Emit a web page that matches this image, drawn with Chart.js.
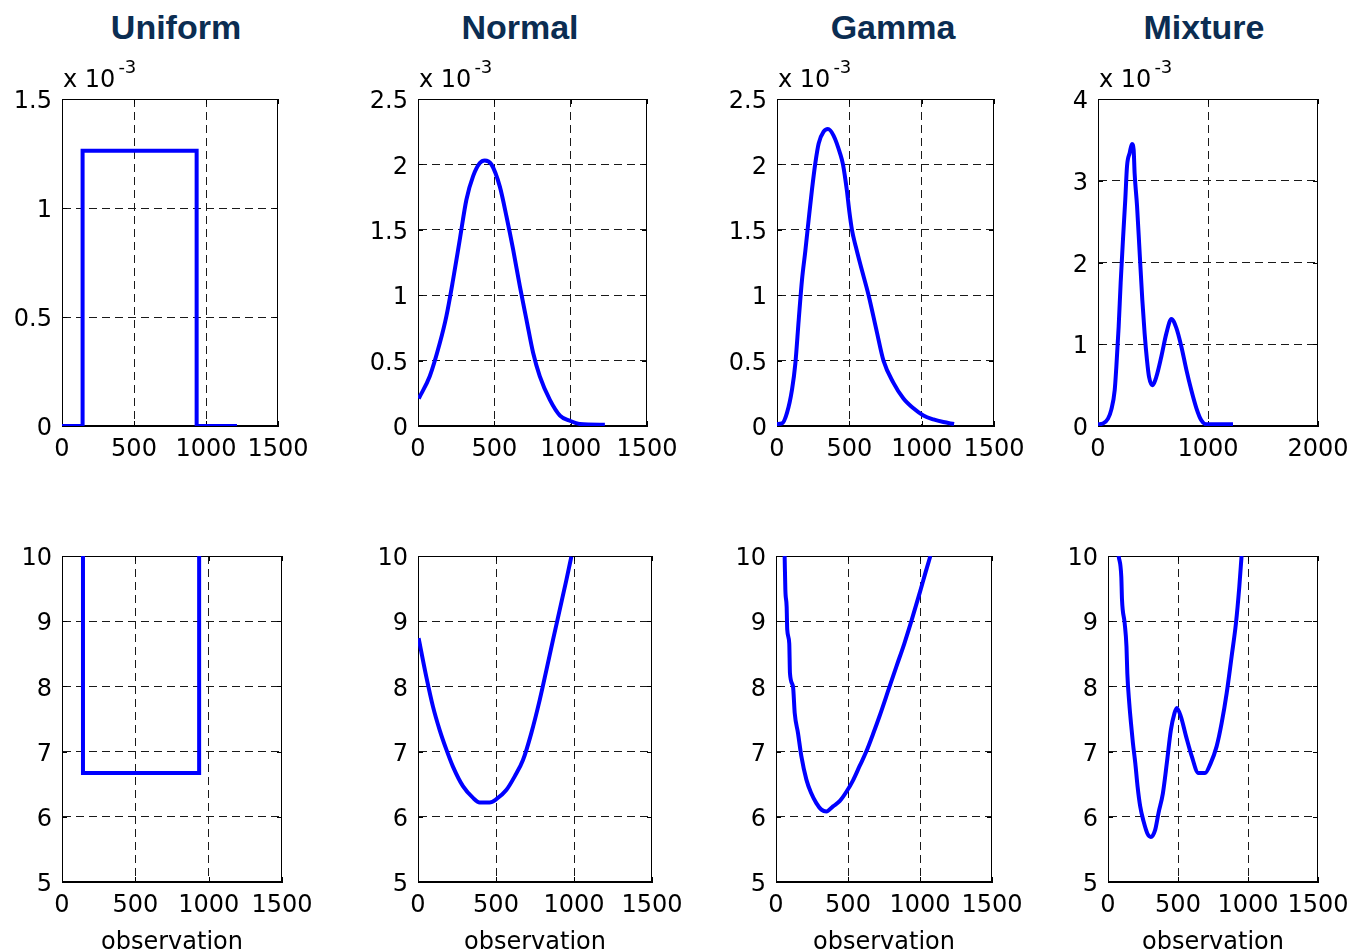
<!DOCTYPE html>
<html>
<head>
<meta charset="utf-8">
<script src="https://cdn.jsdelivr.net/npm/chart.js@4.4.0/dist/chart.umd.min.js"></script>
<style>
  html, body { margin: 0; padding: 0; background: #fff; overflow: hidden; }
  body { width: 1351px; height: 952px; position: relative; }
  canvas { position: absolute; }
  .colTitle {
    position: absolute; top: 8px; line-height: 34px;
    font: bold 34px "Liberation Sans", Arial, sans-serif; color: #0b2d52;
    transform: translateX(-50%); white-space: nowrap;
  }
  .mult {
    position: absolute; top: 65px; line-height: 24px;
    font: 24px "DejaVu Sans", sans-serif; color: #000; white-space: nowrap;
  }
  .mult span { position: relative; top: -14px; margin-left: 3px; font-size: 18px; }
</style>
</head>
<body>
<script>
// --- column titles ---
const titles = ['Uniform', 'Normal', 'Gamma', 'Mixture'];

// --- tick labels ---
const xTicks1500 = [0, 500, 1000, 1500];
const xTicks2000 = [0, 1000, 2000];
const yTicksUniform = [0, 0.5, 1, 1.5];
const yTicksNormal = [0, 0.5, 1, 1.5, 2, 2.5];
const yTicksGamma = [0, 0.5, 1, 1.5, 2, 2.5];
const yTicksMixture = [0, 1, 2, 3, 4];
const yTicksNll = [5, 6, 7, 8, 9, 10];

// --- top row: density (x 10^-3) ---
const uniformX = [0, 143, 143, 935, 935, 1215];
const uniformDensity = [0, 0, 1.263, 1.263, 0, 0];

const normalX = [5, 77, 142, 186, 230, 273, 317, 361, 405, 437, 481, 536, 580, 623, 667, 711, 754, 798, 864, 930, 995, 1060, 1224];
const normalDensity = [0.21, 0.38, 0.63, 0.84, 1.12, 1.42, 1.73, 1.91, 2.01, 2.03, 2.00, 1.83, 1.60, 1.35, 1.07, 0.81, 0.56, 0.38, 0.20, 0.08, 0.04, 0.015, 0.01];

const gammaX = [0, 35, 69, 104, 127, 150, 173, 196, 219, 242, 265, 288, 322, 352, 391, 437, 456, 483, 500, 518, 545, 575, 633, 690, 736, 805, 874, 943, 1012, 1081, 1150, 1224];
const gammaDensity = [0.015, 0.02, 0.10, 0.28, 0.48, 0.81, 1.12, 1.34, 1.58, 1.81, 2.01, 2.16, 2.25, 2.27, 2.22, 2.08, 2.0, 1.80, 1.64, 1.5, 1.37, 1.24, 1.0, 0.72, 0.5, 0.33, 0.21, 0.135, 0.08, 0.05, 0.03, 0.015];

const mixtureX = [0, 45, 91, 121, 152, 167, 188, 206, 227, 248, 264, 288, 309, 324, 333, 355, 379, 403, 424, 445, 464, 494, 530, 576, 621, 667, 712, 758, 803, 848, 894, 939, 985, 1227];
const mixtureDensity = [0.02, 0.03, 0.09, 0.20, 0.44, 0.73, 1.22, 1.75, 2.28, 2.77, 3.18, 3.34, 3.45, 3.38, 3.09, 2.69, 2.11, 1.54, 1.13, 0.81, 0.60, 0.50, 0.60, 0.85, 1.13, 1.31, 1.20, 0.97, 0.69, 0.44, 0.22, 0.07, 0.02, 0.02];

// --- bottom row: negative log density ---
const uniformNllX = [143, 143, 935, 935];
const uniformNll = [10, 6.67, 6.67, 10];

const normalNllX = [4, 53, 96, 139, 182, 224, 288, 353, 395, 459, 502, 566, 620, 673, 726, 780, 823, 865, 908, 951, 983];
const normalNll = [8.74, 8.15, 7.69, 7.33, 7.03, 6.77, 6.47, 6.29, 6.22, 6.22, 6.27, 6.41, 6.62, 6.87, 7.28, 7.79, 8.25, 8.71, 9.17, 9.63, 9.99];

const gammaNllX = [60, 65, 74, 78, 92, 97, 118, 130, 153, 176, 211, 245, 280, 315, 350, 396, 442, 488, 535, 581, 627, 674, 720, 789, 840, 890, 940, 1000, 1040, 1072];
const gammaNll = [10, 9.48, 9.22, 8.87, 8.66, 8.20, 8.0, 7.59, 7.28, 6.93, 6.57, 6.36, 6.21, 6.11, 6.08, 6.16, 6.24, 6.38, 6.56, 6.78, 7.0, 7.27, 7.55, 8.0, 8.33, 8.65, 9.0, 9.45, 9.76, 10];

const mixtureNllX = [76, 95, 100, 119, 132, 138, 152, 164, 178, 195, 211, 230, 254, 282, 306, 337, 361, 392, 420, 449, 475, 491, 520, 558, 598, 646, 693, 733, 776, 812, 848, 883, 914, 938, 954];
const mixtureNll = [10, 9.68, 9.33, 8.97, 8.61, 8.20, 7.74, 7.44, 7.13, 6.82, 6.47, 6.16, 5.93, 5.74, 5.69, 5.80, 6.06, 6.36, 6.82, 7.33, 7.59, 7.67, 7.54, 7.23, 6.93, 6.67, 6.67, 6.82, 7.08, 7.44, 7.90, 8.46, 8.97, 9.53, 10];

// --- layout ---
const Y_AXIS_W = 62, PAD_TOP = 25, PAD_RIGHT = 45;
const titleCenters = [176, 520, 893, 1204];

const panels = [
  { left: 62,   top: 99,  w: 216, h: 327, xs: uniformX,    ys: uniformDensity,  xt: xTicks1500, yt: yTicksUniform, smooth: false, mult: true },
  { left: 418,  top: 99,  w: 229, h: 327, xs: normalX,     ys: normalDensity,   xt: xTicks1500, yt: yTicksNormal,  smooth: true,  mult: true },
  { left: 777,  top: 99,  w: 217, h: 327, xs: gammaX,      ys: gammaDensity,    xt: xTicks1500, yt: yTicksGamma,   smooth: true,  mult: true },
  { left: 1098, top: 99,  w: 220, h: 327, xs: mixtureX,    ys: mixtureDensity,  xt: xTicks2000, yt: yTicksMixture, smooth: true,  mult: true },
  { left: 62,   top: 556, w: 220, h: 326, xs: uniformNllX, ys: uniformNll,      xt: xTicks1500, yt: yTicksNll, smooth: false, xTitle: 'observation' },
  { left: 418,  top: 556, w: 234, h: 326, xs: normalNllX,  ys: normalNll,       xt: xTicks1500, yt: yTicksNll, smooth: true,  xTitle: 'observation' },
  { left: 776,  top: 556, w: 216, h: 326, xs: gammaNllX,   ys: gammaNll,        xt: xTicks1500, yt: yTicksNll, smooth: true,  xTitle: 'observation' },
  { left: 1108, top: 556, w: 210, h: 326, xs: mixtureNllX, ys: mixtureNll,      xt: xTicks1500, yt: yTicksNll, smooth: true,  xTitle: 'observation' }
];

Chart.defaults.font.family = '"DejaVu Sans", sans-serif';
Chart.defaults.font.size = 24;
Chart.defaults.color = '#000';

// solid box + small inward ticks, drawn under the line
const boxPlugin = {
  id: 'matlabBox',
  beforeDatasetsDraw(chart) {
    const { ctx, chartArea: a, scales } = chart;
    const tl = 5;
    ctx.save();
    ctx.setLineDash([]);
    ctx.strokeStyle = '#000';
    ctx.lineWidth = 1;
    ctx.strokeRect(a.left + 0.5, a.top + 0.5, a.right - a.left - 1, a.bottom - a.top - 1);
    ctx.beginPath();
    scales.x.ticks.forEach(t => {
      const px = Math.round(scales.x.getPixelForValue(t.value)) + 0.5;
      ctx.moveTo(px, a.bottom); ctx.lineTo(px, a.bottom - tl);
      ctx.moveTo(px, a.top); ctx.lineTo(px, a.top + tl);
    });
    scales.y.ticks.forEach(t => {
      const py = Math.round(scales.y.getPixelForValue(t.value)) + 0.5;
      ctx.moveTo(a.left, py); ctx.lineTo(a.left + tl, py);
      ctx.moveTo(a.right, py); ctx.lineTo(a.right - tl, py);
    });
    ctx.stroke();
    ctx.restore();
  }
};

titles.forEach((t, i) => {
  const d = document.createElement('div');
  d.className = 'colTitle';
  d.style.left = titleCenters[i] + 'px';
  d.textContent = t;
  document.body.appendChild(d);
});

// hide grid lines that sit on the box edges
function gridColor(ticks) {
  const lo = ticks[0], hi = ticks[ticks.length - 1];
  return c => (c.tick && (c.tick.value === lo || c.tick.value === hi)) ? 'rgba(0,0,0,0)' : '#1a1a1a';
}

panels.forEach(p => {
  const bottomH = p.xTitle ? 78 : 50;
  const cw = Y_AXIS_W + p.w + PAD_RIGHT;
  const ch = PAD_TOP + p.h + bottomH;
  const canvas = document.createElement('canvas');
  canvas.width = cw;
  canvas.height = ch;
  canvas.style.left = (p.left - Y_AXIS_W) + 'px';
  canvas.style.top = (p.top - PAD_TOP) + 'px';
  canvas.style.width = cw + 'px';
  canvas.style.height = ch + 'px';
  document.body.appendChild(canvas);

  const pts = p.xs.map((x, i) => ({ x: x, y: p.ys[i] }));
  const border = { display: true, color: '#000', width: 1, dash: [8, 5] };

  new Chart(canvas, {
    type: 'line',
    data: {
      datasets: [{
        data: pts,
        borderColor: '#0000ff',
        borderWidth: 4,
        pointRadius: 0,
        fill: false,
        tension: p.smooth ? 0.4 : 0,
        cubicInterpolationMode: p.smooth ? 'monotone' : 'default'
      }]
    },
    options: {
      responsive: false,
      animation: false,
      layout: { padding: { left: 0, top: PAD_TOP, right: PAD_RIGHT, bottom: 0 } },
      plugins: { legend: { display: false }, tooltip: { enabled: false } },
      scales: {
        x: {
          type: 'linear',
          min: p.xt[0], max: p.xt[p.xt.length - 1],
          afterBuildTicks: s => { s.ticks = p.xt.map(v => ({ value: v })); },
          afterFit: s => { s.height = bottomH; },
          ticks: { callback: v => String(v), padding: 9, maxRotation: 0, autoSkip: false },
          grid: { color: gridColor(p.xt), lineWidth: 1, drawTicks: false },
          border: border,
          title: p.xTitle
            ? { display: true, text: p.xTitle, padding: { top: 0, bottom: 3 }, font: { size: 24 } }
            : { display: false }
        },
        y: {
          type: 'linear',
          min: p.yt[0], max: p.yt[p.yt.length - 1],
          afterBuildTicks: s => { s.ticks = p.yt.map(v => ({ value: v })); },
          afterFit: s => { s.width = Y_AXIS_W; },
          ticks: { callback: v => String(v), padding: 10, autoSkip: false, labelOffset: 3 },
          grid: { color: gridColor(p.yt), lineWidth: 1, drawTicks: false },
          border: border
        }
      }
    },
    plugins: [boxPlugin]
  });

  if (p.mult) {
    const m = document.createElement('div');
    m.className = 'mult';
    m.style.left = (p.left + 1) + 'px';
    m.innerHTML = 'x 10<span>-3</span>';
    document.body.appendChild(m);
  }
});
</script>
</body>
</html>
